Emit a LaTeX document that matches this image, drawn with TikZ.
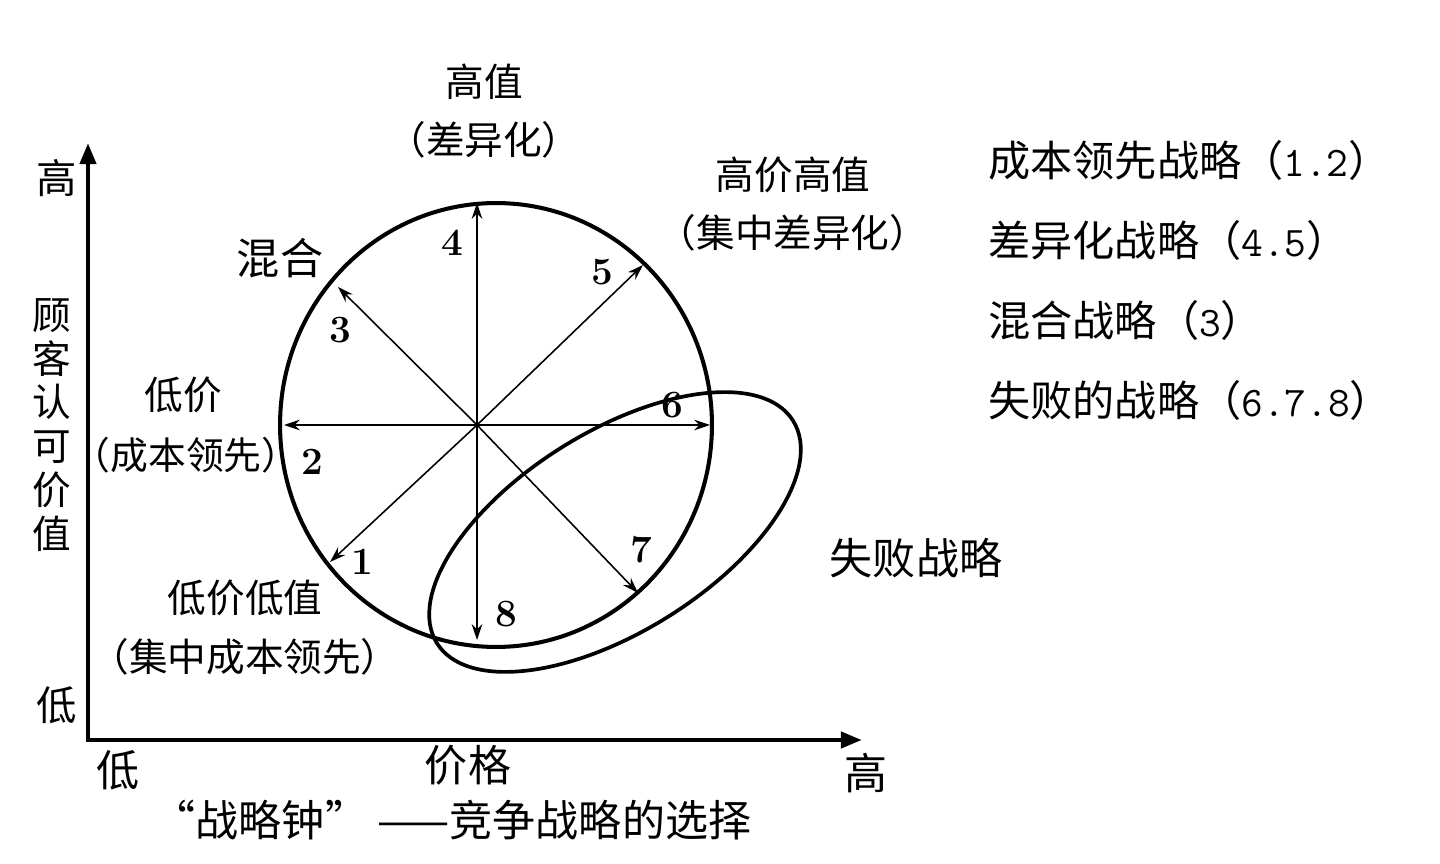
\documentclass[tikz,border=0pt]{standalone}
\usepackage{fontspec}
\newfontfamily\cjk{Noto Sans CJK SC}
\usepackage{tikz}
\usetikzlibrary{arrows.meta, positioning, calc}
\tikzset{
	lbltext/.style={font=\cjk\fontsize{22}{26}\selectfont, inner sep=0pt},
	bigtext/.style={font=\cjk\fontsize{24.5}{28}\selectfont, inner sep=0pt},
	numtext/.style={font=\bfseries\fontsize{22}{24}\selectfont, inner sep=0pt},
	spokearr/.style={-{Stealth[length=9pt, width=6pt]}, line width=0.9pt},
	axisarr/.style={-{Triangle[length=12pt, width=9pt]}, line width=2.6pt},
	clockring/.style={line width=2.3pt},
}
\newcommand{\keydigits}[1]{{\ttfamily\fontsize{24}{28}\selectfont #1}}

\begin{document}
\begin{tikzpicture}[x=0.02cm, y=-0.02cm]
				\useasboundingbox (0,0) rectangle (1440,864);
				% axes
				\coordinate (orig) at (88,740);
				\coordinate (ytop) at (88,143);
				\coordinate (xend) at (862,740);
				\draw[axisarr] ($(orig)+(0,2)$) -- (ytop);
				\draw[axisarr] ($(orig)+(-2,0)$) -- (xend);
				% clock and failure zone
				\node[inner sep=0pt] (ring) at (496,425) {};
				\draw[clockring] (ring) ellipse [x radius=4.32cm, y radius=4.44cm];
				\node[inner sep=0pt] (fail) at (615,532) {};
				\draw[clockring, line width=2.1pt, rotate around={32:(fail)}] (fail) ellipse [x radius=4.2cm, y radius=2cm];
				% spokes
				\coordinate (o) at (477,425);
				\coordinate (p1) at (330,562);
				\coordinate (p2) at (284,425);
				\coordinate (p3) at (338,287);
				\coordinate (p4) at (477,203);
				\coordinate (p5) at (643,265);
				\coordinate (p6) at (710,425);
				\coordinate (p7) at (638,593);
				\coordinate (p8) at (477,640);
				\foreach \k in {1,...,8}
					\draw[spokearr] (o) -- (p\k);
				% spoke numbers
				\node[numtext] (n1) at (362,562) {1};
				\node[numtext] (n2) at (312,462) {2};
				\node[numtext] (n3) at (340,330) {3};
				\node[numtext] (n4) at (452,243) {4};
				\node[numtext] (n5) at (602,272) {5};
				\node[numtext] (n6) at (672,405) {6};
				\node[numtext] (n7) at (641,550) {7};
				\node[numtext] (n8) at (506,614) {8};
				% labels round the clock
				\node[lbltext] (hv) at (484,82) {高值};
				\node[lbltext] (hvsub) at (484,140) {（差异化）};
				\node[lbltext] (hphv) at (793,175) {高价高值};
				\node[lbltext] (hphvsub) at (793,233) {（集中差异化）};
				\node[bigtext] (mix) at (280,258) {混合};
				\node[lbltext] (lp) at (183,395) {低价};
				\node[lbltext, font=\cjk\fontsize{21.5}{26}\selectfont] (lpsub) at (186,455) {（成本领先）};
				\node[lbltext] (lplv) at (245,598) {低价低值};
				\node[lbltext] (lplvsub) at (245,657) {（集中成本领先）};
				\node[bigtext] (failtxt) at (916,558) {失败战略};
				% legend list
				\node[lbltext, font=\cjk\fontsize{24}{28}\selectfont, anchor=west] (k1) at (988,160) {成本领先战略（\keydigits{1.2}）};
				\node[lbltext, font=\cjk\fontsize{24}{28}\selectfont, anchor=west] (k2) at (988,240) {差异化战略（\keydigits{4.5}）};
				\node[lbltext, font=\cjk\fontsize{24}{28}\selectfont, anchor=west] (k3) at (988,320) {混合战略（\keydigits{3}）};
				\node[lbltext, font=\cjk\fontsize{24}{28}\selectfont, anchor=west] (k4) at (988,400) {失败的战略（\keydigits{6.7.8}）};
				% axis labels
				\node[lbltext, font=\cjk\fontsize{23}{26}\selectfont] (yhi) at (57,178) {高};
				\node[lbltext, align=center, font=\cjk\fontsize{22}{25}\selectfont] (ytitle) at (52,425) {顾\\客\\认\\可\\价\\值};
				\node[lbltext, font=\cjk\fontsize{23}{26}\selectfont] (ylo) at (57,705) {低};
				\node[bigtext] (xlo) at (118,770) {低};
				\node[bigtext] (xtitle) at (468,765) {价格};
				\node[bigtext] (xhi) at (866,773) {高};
				\node[bigtext] (caption) at (452,820) {“战略钟”\ ——竞争战略的选择};
			\end{tikzpicture}
\end{document}
